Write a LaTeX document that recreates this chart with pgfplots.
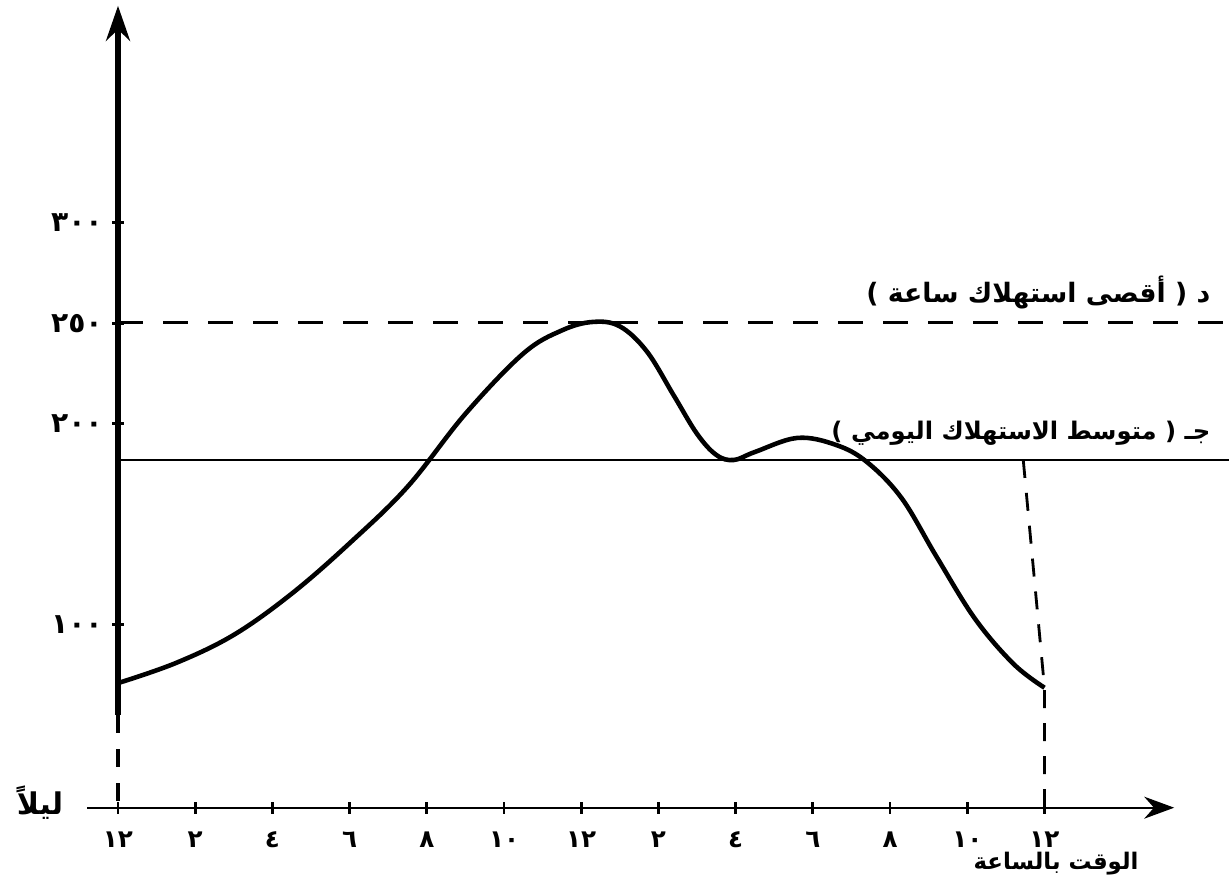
\documentclass[border=0pt]{standalone}
\usepackage{fontspec}
\setmainfont{DejaVu Sans}
\newfontfamily\arabicfont[Script=Arabic]{DejaVu Sans}
\TeXXeTstate=1
\usepackage{pgfplots}
\pgfplotsset{compat=1.18}
\usetikzlibrary{arrows.meta}

\begin{document}
\begin{tikzpicture}
\begin{axis}[
  x=0.386cm, y=0.0201cm,
  xmin=-0.8, xmax=27.36, ymin=9, ymax=408,
  axis x line=bottom,
  axis y line=center,
  x axis line style={line width=0.6pt, -{Stealth[length=3mm,width=2.2mm]}},
  y axis line style={draw=none},
  clip=false,
  xtick={0,2,...,24},
  xticklabels={١٢,٢,٤,٦,٨,١٠,١٢,٢,٤,٦,٨,١٠,١٢},
  ytick={100,200,250,300},
  yticklabels={١٠٠,٢٠٠,٢٥٠,٣٠٠},
  tick align=center,
  major tick length=1.2mm,
  tick style={black, line width=0.8pt},
  xticklabel style={font=\arabicfont\bfseries\fontsize{7}{8}\selectfont, yshift=-0.6mm},
  yticklabel style={font=\arabicfont\bfseries\fontsize{8}{9}\selectfont, xshift=0.3mm},
]

% load curve (hour, consumption)
\addplot[line width=1.3pt, smooth, tension=0.6] coordinates {
  (0,71) (1.5,81) (3,95) (4.5,115.5) (6,140.6) (7.5,168.7) (9,205)
  (10.5,235) (11.5,246.5) (12.3,250.7) (13,248.5) (13.7,236) (14.4,214)
  (15,195) (15.5,184.5) (15.95,182) (16.5,186) (17.6,193) (18.6,189.5)
  (19.4,181) (20.3,163) (21.2,134) (22.2,103) (23.2,80.5) (24,68.7)
};

% vertical axis
\addplot[line width=1.5pt, -{Stealth[length=3.5mm,width=2.4mm]}] coordinates {(0,55) (0,408)};
\addplot[line width=1pt, dash pattern=on 1.8mm off 1.6mm] coordinates {(0,55) (0,9)};

% maximum hourly and average daily lines
\addplot[line width=0.9pt, dash pattern=on 2.5mm off 2mm] coordinates {(0,250.5) (28.78,250.5)};
\addplot[line width=0.6pt] coordinates {(0,182) (28.78,182)};
\addplot[line width=0.8pt, dash pattern=on 1.8mm off 1.5mm] coordinates {(23.45,182) (24,68.7) (24,9)};

\node[anchor=east, font=\arabicfont\bfseries\fontsize{7.6}{9}\selectfont] at (axis cs:28.62,265.2)
  {\beginR د ( أقصى استهلاك ساعة )\endR};
\node[anchor=east, font=\arabicfont\bfseries\fontsize{6.9}{9}\selectfont] at (axis cs:28.62,195.5)
  {\beginR جـ ( متوسط الاستهلاك اليومي )\endR};
\node[font=\arabicfont\bfseries\fontsize{8.5}{10}\selectfont] at (axis cs:-2.02,11.4)
  {\beginR ليلاً\endR};
\node[font=\arabicfont\bfseries\fontsize{6.5}{8}\selectfont] at (axis cs:24.3,-19)
  {\beginR الوقت بالساعة\endR};

\coordinate (bl) at (axis cs:-3.057,-26.4);
\coordinate (tr) at (axis cs:28.78,410.9);
\end{axis}
\pgfresetboundingbox
\path[use as bounding box] (bl) rectangle (tr);
\end{tikzpicture}
\end{document}
